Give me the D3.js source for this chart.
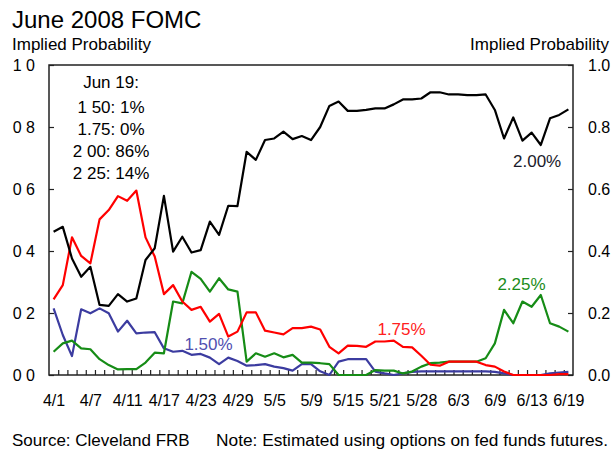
<!DOCTYPE html>
<html>
<head>
<meta charset="utf-8">
<script src="https://cdn.jsdelivr.net/npm/d3@7"></script>
<style>
	body { margin: 0; background: #fff; }
	svg { display: block; font-family: "Liberation Sans", Arial, sans-serif; }
</style>
</head>
<body>
<svg id="chart" width="613" height="451"></svg>
<script>
// trading days, 4/1 to 6/19 2008
const dates = [
	'4/1', '4/2', '4/3', '4/4', '4/7', '4/8', '4/9', '4/10', '4/11', '4/14', '4/15',
	'4/16', '4/17', '4/18', '4/21', '4/22', '4/23', '4/24', '4/25', '4/28', '4/29', '4/30',
	'5/1', '5/2', '5/5', '5/6', '5/7', '5/8', '5/9', '5/12', '5/13', '5/14', '5/15',
	'5/16', '5/19', '5/20', '5/21', '5/22', '5/23', '5/27', '5/28', '5/29', '5/30',
	'6/2', '6/3', '6/4', '6/5', '6/6', '6/9', '6/10', '6/11', '6/12', '6/13',
	'6/16', '6/17', '6/18', '6/19'
];

const rate150 = [
	0.215, 0.129, 0.061, 0.212, 0.199, 0.215, 0.199, 0.140, 0.175, 0.134, 0.137,
	0.138, 0.086, 0.075, 0.078, 0.065, 0.068, 0.056, 0.035, 0.056, 0.045, 0.030,
	0.032, 0.035, 0.027, 0.022, 0.014, 0.035, 0.035, 0.012, 0.000, 0.043, 0.051,
	0.051, 0.051, 0.011, 0.005, 0.000, 0.005, 0.010, 0.012, 0.012, 0.012,
	0.012, 0.012, 0.012, 0.012, 0.012, 0.010, 0.005, 0.000, 0.000, 0.000,
	0.000, 0.005, 0.008, 0.010
];

const rate175 = [
	0.244, 0.290, 0.444, 0.384, 0.360, 0.502, 0.532, 0.577, 0.562, 0.595, 0.444,
	0.382, 0.261, 0.290, 0.237, 0.210, 0.220, 0.172, 0.197, 0.124, 0.140, 0.202,
	0.202, 0.143, 0.137, 0.131, 0.151, 0.151, 0.156, 0.147, 0.091, 0.070, 0.095,
	0.094, 0.091, 0.108, 0.108, 0.111, 0.091, 0.089, 0.062, 0.033, 0.030,
	0.043, 0.043, 0.043, 0.043, 0.032, 0.027, 0.011, 0.000, 0.000, 0.000,
	0.000, 0.000, 0.003, 0.003
];

const rate200 = [
	0.462, 0.478, 0.376, 0.317, 0.349, 0.226, 0.223, 0.261, 0.237, 0.247, 0.371,
	0.409, 0.578, 0.398, 0.446, 0.395, 0.403, 0.495, 0.452, 0.546, 0.545, 0.720,
	0.694, 0.758, 0.763, 0.785, 0.761, 0.771, 0.758, 0.800, 0.868, 0.882, 0.852,
	0.852, 0.855, 0.860, 0.860, 0.873, 0.889, 0.889, 0.892, 0.912, 0.912,
	0.905, 0.905, 0.903, 0.903, 0.905, 0.855, 0.763, 0.831, 0.756, 0.782,
	0.742, 0.828, 0.839, 0.857
];

const rate225 = [
	0.075, 0.102, 0.111, 0.086, 0.083, 0.051, 0.032, 0.018, 0.019, 0.019, 0.040,
	0.072, 0.070, 0.237, 0.231, 0.333, 0.310, 0.269, 0.312, 0.276, 0.269, 0.043,
	0.070, 0.059, 0.070, 0.057, 0.065, 0.040, 0.040, 0.038, 0.035, 0.000, 0.000,
	0.000, 0.000, 0.016, 0.014, 0.014, 0.005, 0.011, 0.027, 0.038, 0.040,
	0.043, 0.043, 0.043, 0.043, 0.054, 0.102, 0.210, 0.167, 0.237, 0.220,
	0.258, 0.167, 0.156, 0.140
];

const yTickValues = [0, 0.2, 0.4, 0.6, 0.8, 1.0];
const leftTickLabels = ['0 0', '0 2', '0 4', '0 6', '0 8', '1 0'];
const rightTickLabels = ['0.0', '0.2', '0.4', '0.6', '0.8', '1.0'];
const dateLabelEvery = 4;
const seriesNames = ['1.50%', '2.25%', '1.75%', '2.00%'];
const juneNineteenLines = ['Jun 19:', '1 50: 1%', '1.75: 0%', '2 00: 86%', '2 25: 14%'];

const FomcChart = {
	left: 49,
	right: 573,
	top: 65,
	bottom: 375,

	draw: function() {
		const self = this;
		let svg = d3.select('#chart');
		let x = d3.scaleLinear()
			.domain([ -0.5, dates.length - 0.5 ])
			.range([ self.left, self.right ]);
		let y = d3.scaleLinear()
			.domain([ 0, 1 ])
			.range([ self.bottom, self.top ]);

		self.drawTitles(svg);
		self.drawFrame(svg);
		self.drawAxes(svg, x, y);
		self.drawLines(svg, x, y);
		self.drawLabels(svg, x, y);
	},

	drawTitles: function(svg) {
		svg.append('text')
			.attr('x', 12)
			.attr('y', 28)
			.style('font-size', '24px')
			.style('fill', '#000')
			.text('June 2008 FOMC');

		svg.append('text')
			.attr('x', 12)
			.attr('y', 50)
			.style('font-size', '17px')
			.text('Implied Probability');

		svg.append('text')
			.attr('x', 609)
			.attr('y', 50)
			.attr('text-anchor', 'end')
			.style('font-size', '17px')
			.text('Implied Probability');

		svg.append('text')
			.attr('x', 12)
			.attr('y', 446)
			.style('font-size', '17px')
			.text('Source: Cleveland FRB');

		svg.append('text')
			.attr('x', 608)
			.attr('y', 446)
			.attr('text-anchor', 'end')
			.style('font-size', '17.3px')
			.text('Note: Estimated using options on fed funds futures.');
	},

	drawFrame: function(svg) {
		const self = this;

		svg.append('rect')
			.attr('x', self.left)
			.attr('y', self.top)
			.attr('width', self.right - self.left)
			.attr('height', self.bottom - self.top)
			.style('fill', 'none')
			.style('stroke', '#222')
			.style('stroke-width', 1.5);
	},

	drawAxes: function(svg, x, y) {
		const self = this;
		let boundaries = d3.range(1, dates.length).map(d => d - 0.5);
		let labelled = d3.range(0, dates.length, dateLabelEvery);

		let leftAxis = svg.append('g')
			.attr('transform', 'translate(' + self.left + ',0)')
			.call(d3.axisLeft(y)
				.tickValues(yTickValues)
				.tickSize(-5)
				.tickPadding(14)
				.tickFormat((d, i) => leftTickLabels[i]));

		let rightAxis = svg.append('g')
			.attr('transform', 'translate(' + self.right + ',0)')
			.call(d3.axisRight(y)
				.tickValues(yTickValues)
				.tickSize(-5)
				.tickPadding(15)
				.tickFormat((d, i) => rightTickLabels[i]));

		let tickAxis = svg.append('g')
			.attr('transform', 'translate(0,' + self.bottom + ')')
			.call(d3.axisBottom(x)
				.tickValues(boundaries)
				.tickSize(-5)
				.tickFormat(''));

		let dateAxis = svg.append('g')
			.attr('transform', 'translate(0,' + self.bottom + ')')
			.call(d3.axisBottom(x)
				.tickValues(labelled)
				.tickSize(0)
				.tickPadding(20)
				.tickFormat(i => dates[i]));

		[ leftAxis, rightAxis, tickAxis, dateAxis ].forEach(function(axis) {
			axis.select('.domain').remove();
			axis.selectAll('line')
				.style('stroke', '#222')
				.style('stroke-width', 1.2);
			axis.selectAll('text')
				.style('font-family', '"Liberation Sans", Arial, sans-serif')
				.style('font-size', '16px')
				.style('fill', '#000');
		});
	},

	drawLines: function(svg, x, y) {
		let series = [
			{ name: seriesNames[0], values: rate150, color: '#3c3ca0' },
			{ name: seriesNames[1], values: rate225, color: '#168c16' },
			{ name: seriesNames[2], values: rate175, color: '#ff0000' },
			{ name: seriesNames[3], values: rate200, color: '#000000' }
		];
		let line = d3.line()
			.x((d, i) => x(i))
			.y(d => y(d));

		svg.append('g')
			.selectAll('path')
			.data(series)
			.join('path')
			.attr('d', d => line(d.values))
			.style('fill', 'none')
			.style('stroke', d => d.color)
			.style('stroke-width', 2.2)
			.style('stroke-linejoin', 'round');
	},

	drawLabels: function(svg, x, y) {
		// series labels, placed in data units next to their lines
		let seriesLabels = [
			{ text: seriesNames[0], at: 16.85, v: 0.081, color: '#5050b0' },
			{ text: seriesNames[2], at: 37.85, v: 0.129, color: '#ff2020' },
			{ text: seriesNames[1], at: 50.9, v: 0.274, color: '#1a8c1a' },
			{ text: seriesNames[3], at: 52.6, v: 0.672, color: '#1a1a2a' }
		];

		svg.append('g')
			.selectAll('text')
			.data(seriesLabels)
			.join('text')
			.attr('x', d => x(d.at))
			.attr('y', d => y(d.v))
			.attr('text-anchor', 'middle')
			.style('font-size', '17px')
			.style('fill', d => d.color)
			.text(d => d.text);

		let baselines = [ 88, 113, 135, 157, 179 ];

		svg.append('g')
			.selectAll('text')
			.data(juneNineteenLines)
			.join('text')
			.attr('x', x(6.25))
			.attr('y', (d, i) => baselines[i])
			.attr('text-anchor', 'middle')
			.style('font-size', '17px')
			.style('fill', '#000')
			.text(d => d);
	}
}

FomcChart.draw();
</script>
</body>
</html>
